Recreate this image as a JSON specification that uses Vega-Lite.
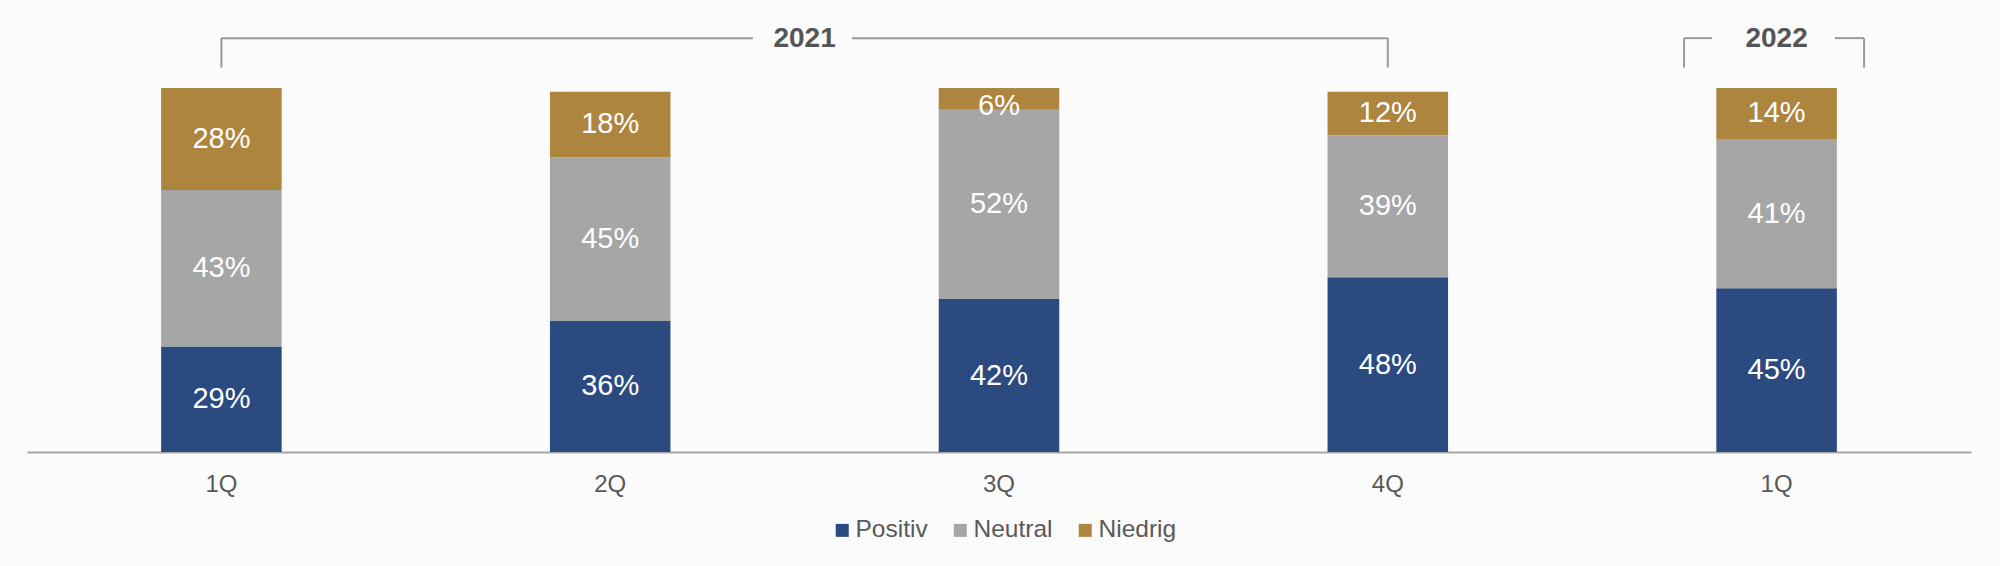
{
  "$schema": "https://vega.github.io/schema/vega-lite/v6.json",
  "width": 1944,
  "height": 364,
  "autosize": {"type": "none"},
  "padding": {"left": 27, "top": 88, "right": 29, "bottom": 114},
  "background": "#fbfbfb",
  "config": {
    "view": {"stroke": null},
    "font": "Liberation Sans"
  },
  "datasets": {
    "shares": [
      {"q": "2021-1Q", "cat": "Positiv", "k": 1, "value": 29},
      {"q": "2021-1Q", "cat": "Neutral", "k": 2, "value": 43},
      {"q": "2021-1Q", "cat": "Niedrig", "k": 3, "value": 28},
      {"q": "2021-2Q", "cat": "Positiv", "k": 1, "value": 36},
      {"q": "2021-2Q", "cat": "Neutral", "k": 2, "value": 45},
      {"q": "2021-2Q", "cat": "Niedrig", "k": 3, "value": 18},
      {"q": "2021-3Q", "cat": "Positiv", "k": 1, "value": 42},
      {"q": "2021-3Q", "cat": "Neutral", "k": 2, "value": 52},
      {"q": "2021-3Q", "cat": "Niedrig", "k": 3, "value": 6},
      {"q": "2021-4Q", "cat": "Positiv", "k": 1, "value": 48},
      {"q": "2021-4Q", "cat": "Neutral", "k": 2, "value": 39},
      {"q": "2021-4Q", "cat": "Niedrig", "k": 3, "value": 12},
      {"q": "2022-1Q", "cat": "Positiv", "k": 1, "value": 45},
      {"q": "2022-1Q", "cat": "Neutral", "k": 2, "value": 41},
      {"q": "2022-1Q", "cat": "Niedrig", "k": 3, "value": 14}
    ],
    "brackets": [
      {"x": 1, "x2": 2.367, "y": 113.7, "y2": 113.7},
      {"x": 2.622, "x2": 4, "y": 113.7, "y2": 113.7},
      {"x": 1, "x2": 1, "y": 105.6, "y2": 113.7},
      {"x": 4, "x2": 4, "y": 105.6, "y2": 113.7},
      {"x": 4.762, "x2": 4.834, "y": 113.7, "y2": 113.7},
      {"x": 5.15, "x2": 5.225, "y": 113.7, "y2": 113.7},
      {"x": 4.762, "x2": 4.762, "y": 105.6, "y2": 113.7},
      {"x": 5.225, "x2": 5.225, "y": 105.6, "y2": 113.7}
    ],
    "years": [
      {"x": 2.5, "y": 113.5, "year": "2021"},
      {"x": 5, "y": 113.5, "year": "2022"}
    ]
  },
  "layer": [
    {
      "data": {"name": "shares"},
      "transform": [
        {"stack": "value", "groupby": ["q"], "sort": [{"field": "k"}], "as": ["y0", "y1"]},
        {"calculate": "(datum.y0 + datum.y1) / 2", "as": "mid"},
        {"calculate": "datum.value + '%'", "as": "pct"}
      ],
      "layer": [
        {
          "mark": {"type": "bar"},
          "encoding": {
            "x": {
              "field": "q",
              "type": "nominal",
              "title": null,
              "scale": {"paddingInner": 0.69, "paddingOuter": 0.345},
              "axis": {
                "labelExpr": "split(datum.label, '-')[1]",
                "labelAngle": 0,
                "labelFontSize": 24,
                "labelColor": "#595959",
                "labelPadding": 20,
                "ticks": false,
                "domainColor": "#a6a6a6",
                "domainWidth": 2,
                "grid": false
              }
            },
            "y": {
              "field": "y0",
              "type": "quantitative",
              "scale": {"domain": [0, 100]},
              "axis": null
            },
            "y2": {"field": "y1"},
            "color": {
              "field": "cat",
              "type": "nominal",
              "title": null,
              "scale": {
                "domain": ["Positiv", "Neutral", "Niedrig"],
                "range": ["#2b4a80", "#a6a6a6", "#ae853f"]
              },
              "legend": {
                "orient": "none",
                "direction": "horizontal",
                "legendX": 803,
                "legendY": 430,
                "symbolType": "square",
                "symbolSize": 169,
                "symbolStrokeWidth": 0,
                "labelFontSize": 24.5,
                "labelColor": "#595959",
                "labelOffset": 1,
                "columnPadding": 20,
                "padding": 0
              }
            }
          }
        },
        {
          "mark": {
            "type": "text",
            "fontSize": 29,
            "color": "white",
            "baseline": "middle",
            "dy": {"expr": "datum.value < 10 ? 7 : 0"}
          },
          "encoding": {
            "x": {"field": "q", "type": "nominal"},
            "y": {"field": "mid", "type": "quantitative"},
            "text": {"field": "pct", "type": "nominal"}
          }
        }
      ]
    },
    {
      "data": {"name": "brackets"},
      "mark": {"type": "rule", "color": "#999999", "strokeWidth": 2},
      "encoding": {
        "x": {"field": "x", "type": "quantitative", "scale": {"domain": [0.5, 5.5]}, "axis": null},
        "x2": {"field": "x2"},
        "y": {"field": "y", "type": "quantitative"},
        "y2": {"field": "y2"}
      }
    },
    {
      "data": {"name": "years"},
      "mark": {"type": "text", "fontSize": 28, "fontWeight": "bold", "color": "#555555", "baseline": "middle"},
      "encoding": {
        "x": {"field": "x", "type": "quantitative", "scale": {"domain": [0.5, 5.5]}, "axis": null},
        "y": {"field": "y", "type": "quantitative"},
        "text": {"field": "year", "type": "nominal"}
      }
    }
  ],
  "resolve": {"scale": {"x": "independent"}}
}
